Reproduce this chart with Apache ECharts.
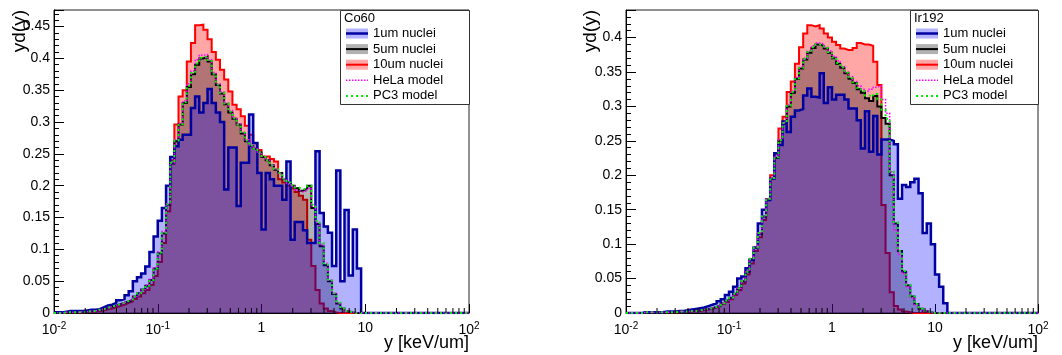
<!DOCTYPE html>
<html><head><meta charset="utf-8">
<script src="https://cdn.jsdelivr.net/npm/echarts@6/dist/echarts.min.js"></script>
<style>html,body{margin:0;padding:0;background:#fff}#c{width:1062px;height:355px}</style>
</head><body><div id="c"></div>
<script>
// ---------- data ----------
const LOG_MIN = -2, LOG_MAX = 2, N_BINS = 100;          // 100 log bins, 10^-2 .. 10^2
const xTickExponents = [-2, -1, 0, 1, 2];
const minorTickMultipliers = [2, 3, 4, 5, 6, 7, 8, 9];
const seriesNames = ['1um nuclei', '5um nuclei', '10um nuclei', 'HeLa model', 'PC3 model'];
const panelTitles = ['Co60', 'Ir192'];
const xAxisTitle = 'y [keV/um]';
const yAxisTitle = 'yd(y)';

const co60_1um = [
 0.001,0.001,0.002,0.003,0.003,0.003,0.003,0.004,0.005,0.005,
 0.006,0.009,0.012,0.013,0.016,0.020,0.022,0.028,0.034,0.050,
 0.056,0.062,0.073,0.096,0.120,0.145,0.165,0.200,0.245,0.262,
 0.272,0.280,0.280,0.322,0.340,0.315,0.330,0.352,0.330,0.315,
 0.300,0.194,0.260,0.260,0.168,0.236,0.236,0.312,0.267,0.220,
 0.131,0.220,0.210,0.200,0.200,0.178,0.238,0.115,0.143,0.143,
 0.130,0.110,0.110,0.254,0.157,0.136,0.126,0.074,0.224,0.050,
 0.162,0.059,0.131,0.070,0,0,0,0,0,0,
 0,0,0,0,0,0,0,0,0,0,
 0,0,0,0,0,0,0,0,0,0];
const co60_5um = [
 0,0,0.001,0.001,0.001,0.001,0.002,0.002,0.003,0.003,
 0.005,0.006,0.008,0.010,0.012,0.014,0.016,0.018,0.021,0.026,
 0.031,0.037,0.043,0.052,0.070,0.094,0.125,0.170,0.235,0.270,
 0.296,0.330,0.355,0.375,0.390,0.400,0.403,0.395,0.375,0.358,
 0.345,0.328,0.315,0.305,0.296,0.282,0.270,0.262,0.258,0.252,
 0.245,0.240,0.232,0.225,0.220,0.210,0.205,0.200,0.196,0.192,
 0.195,0.200,0.165,0.140,0.105,0.075,0.050,0.030,0.015,0.007,
 0.003,0.001,0,0,0,0,0,0,0,0,
 0,0,0,0,0,0,0,0,0,0,
 0,0,0,0,0,0,0,0,0,0];
const co60_10um = [
 0,0,0.001,0.001,0.001,0.001,0.001,0.002,0.002,0.002,
 0.003,0.004,0.006,0.007,0.009,0.011,0.013,0.016,0.018,0.022,
 0.026,0.031,0.036,0.044,0.058,0.080,0.110,0.160,0.240,0.296,
 0.340,0.350,0.395,0.424,0.452,0.453,0.445,0.430,0.410,0.398,
 0.382,0.367,0.348,0.327,0.320,0.309,0.294,0.280,0.267,0.256,
 0.246,0.246,0.242,0.238,0.210,0.205,0.200,0.196,0.190,0.184,
 0.178,0.115,0.074,0.036,0.015,0.007,0.003,0.001,0,0,
 0,0,0,0,0,0,0,0,0,0,
 0,0,0,0,0,0,0,0,0,0,
 0,0,0,0,0,0,0,0,0,0];
const co60_hela = [
 0,0,0.001,0.001,0.001,0.001,0.002,0.002,0.003,0.003,
 0.005,0.006,0.008,0.010,0.012,0.014,0.016,0.019,0.022,0.026,
 0.031,0.037,0.044,0.053,0.071,0.096,0.128,0.172,0.236,0.272,
 0.298,0.333,0.360,0.380,0.398,0.405,0.406,0.398,0.378,0.360,
 0.347,0.330,0.318,0.307,0.297,0.284,0.272,0.264,0.258,0.251,
 0.246,0.240,0.233,0.226,0.219,0.211,0.204,0.199,0.193,0.190,
 0.192,0.196,0.168,0.142,0.108,0.078,0.052,0.031,0.016,0.008,
 0.003,0.001,0,0,0,0,0,0,0,0,
 0,0,0,0,0,0,0,0,0,0,
 0,0,0,0,0,0,0,0,0,0];
const co60_pc3 = [
 0,0,0.001,0.001,0.001,0.001,0.002,0.002,0.003,0.003,
 0.005,0.006,0.008,0.010,0.012,0.014,0.016,0.019,0.021,0.026,
 0.031,0.037,0.043,0.052,0.070,0.095,0.126,0.171,0.236,0.271,
 0.297,0.331,0.357,0.377,0.392,0.401,0.403,0.396,0.376,0.359,
 0.346,0.329,0.316,0.306,0.296,0.283,0.271,0.263,0.258,0.252,
 0.245,0.240,0.232,0.226,0.220,0.211,0.205,0.201,0.197,0.194,
 0.196,0.200,0.170,0.145,0.110,0.078,0.051,0.031,0.016,0.007,
 0.003,0.001,0,0,0,0,0,0,0,0,
 0,0,0,0,0,0,0,0,0,0,
 0,0,0,0,0,0,0,0,0,0];

const ir192_1um = [
 0,0,0,0,0.001,0.001,0.001,0.001,0.001,0.002,
 0.002,0.002,0.003,0.003,0.004,0.005,0.006,0.007,0.008,0.010,
 0.012,0.014,0.017,0.020,0.026,0.031,0.038,0.050,0.053,0.065,
 0.077,0.095,0.130,0.150,0.164,0.195,0.232,0.244,0.278,0.263,
 0.285,0.294,0.296,0.316,0.326,0.314,0.313,0.348,0.305,0.328,
 0.310,0.317,0.317,0.310,0.297,0.297,0.280,0.239,0.293,0.234,
 0.286,0.230,0.252,0.252,0.250,0.245,0.166,0.186,0.183,0.190,
 0.195,0.174,0.116,0.130,0.100,0.056,0.038,0.014,0,0,
 0,0,0,0,0,0,0,0,0,0,
 0,0,0,0,0,0,0,0,0,0];
const ir192_5um = [
 0,0,0,0,0.001,0.001,0.001,0.001,0.001,0.001,
 0.001,0.001,0.002,0.002,0.002,0.003,0.003,0.004,0.005,0.006,
 0.007,0.009,0.011,0.014,0.018,0.022,0.028,0.036,0.046,0.060,
 0.078,0.095,0.115,0.140,0.165,0.195,0.225,0.250,0.275,0.300,
 0.320,0.340,0.355,0.368,0.378,0.385,0.390,0.388,0.384,0.378,
 0.370,0.362,0.356,0.348,0.340,0.334,0.325,0.320,0.312,0.308,
 0.315,0.300,0.283,0.275,0.200,0.130,0.090,0.060,0.040,0.024,
 0.013,0.006,0.003,0.001,0,0,0,0,0,0,
 0,0,0,0,0,0,0,0,0,0,
 0,0,0,0,0,0,0,0,0,0];
const ir192_10um = [
 0,0,0,0,0.001,0.001,0.001,0.001,0.001,0.001,
 0.001,0.001,0.001,0.002,0.002,0.002,0.003,0.003,0.004,0.005,
 0.006,0.008,0.010,0.013,0.016,0.020,0.026,0.033,0.043,0.056,
 0.072,0.090,0.110,0.135,0.165,0.200,0.232,0.268,0.285,0.321,
 0.336,0.362,0.386,0.406,0.418,0.416,0.418,0.413,0.406,0.400,
 0.394,0.389,0.384,0.382,0.382,0.385,0.392,0.390,0.390,0.388,
 0.365,0.331,0.157,0.087,0.030,0.010,0.005,0.002,0.001,0,
 0,0,0,0,0,0,0,0,0,0,
 0,0,0,0,0,0,0,0,0,0,
 0,0,0,0,0,0,0,0,0,0];
const ir192_hela = [
 0,0,0,0,0.001,0.001,0.001,0.001,0.001,0.001,
 0.001,0.001,0.002,0.002,0.002,0.003,0.003,0.004,0.005,0.006,
 0.007,0.009,0.011,0.014,0.018,0.022,0.028,0.036,0.047,0.061,
 0.079,0.096,0.116,0.141,0.166,0.196,0.226,0.252,0.277,0.302,
 0.322,0.342,0.357,0.370,0.380,0.388,0.392,0.391,0.386,0.381,
 0.373,0.366,0.358,0.350,0.343,0.336,0.330,0.325,0.322,0.325,
 0.328,0.330,0.310,0.290,0.205,0.120,0.085,0.057,0.038,0.022,
 0.012,0.006,0.003,0.001,0,0,0,0,0,0,
 0,0,0,0,0,0,0,0,0,0,
 0,0,0,0,0,0,0,0,0,0];
const ir192_pc3 = [
 0,0,0,0,0.001,0.001,0.001,0.001,0.001,0.001,
 0.001,0.001,0.002,0.002,0.002,0.003,0.003,0.004,0.005,0.006,
 0.007,0.009,0.011,0.014,0.018,0.022,0.028,0.036,0.046,0.060,
 0.078,0.095,0.116,0.140,0.166,0.196,0.226,0.251,0.276,0.301,
 0.321,0.341,0.356,0.369,0.379,0.386,0.390,0.389,0.385,0.379,
 0.371,0.363,0.357,0.349,0.341,0.335,0.327,0.322,0.316,0.314,
 0.318,0.310,0.295,0.282,0.205,0.132,0.090,0.061,0.041,0.024,
 0.013,0.006,0.003,0.001,0,0,0,0,0,0,
 0,0,0,0,0,0,0,0,0,0,
 0,0,0,0,0,0,0,0,0,0];

// ---------- layout / style ----------
const FONT = '"Liberation Sans", Arial, Helvetica, sans-serif';
const panels = [
  { grid: {left: 54, top: 10, width: 415, height: 303}, ymax: 0.476, title: panelTitles[0],
    values: [co60_1um, co60_5um, co60_10um, co60_hela, co60_pc3],
    legendBox: {x: 340, y: 10, w: 129, h: 94}, yTitleX: 20 },
  { grid: {left: 626, top: 10, width: 412, height: 303}, ymax: 0.44, title: panelTitles[1],
    values: [ir192_1um, ir192_5um, ir192_10um, ir192_hela, ir192_pc3],
    legendBox: {x: 910, y: 10, w: 128, h: 94}, yTitleX: 591 }
];
const styles = [
  {line: '#0000a0', width: 2.5, area: 'rgba(0,0,255,0.3)'},
  {line: '#000000', width: 2,   area: 'rgba(0,0,0,0.3)'},
  {line: '#ff0000', width: 2,   area: 'rgba(255,0,0,0.35)'},
  {line: '#ff00ff', width: 1.5, dash: [1.5, 1.5]},
  {line: '#00ee00', width: 2,   dash: [2, 3]}
];
const drawOrder = [2, 1, 0, 3, 4];

const binEdges = [];
for (let i = 0; i <= N_BINS; i++) binEdges.push(LOG_MIN + (LOG_MAX - LOG_MIN) * i / N_BINS);
function stepData(vals) {
  const d = vals.map((v, i) => [binEdges[i], v]);
  d.push([binEdges[N_BINS], vals[N_BINS - 1]]);
  return d;
}
const minorTicks = [];
for (let n = LOG_MIN; n < LOG_MAX; n++) minorTickMultipliers.forEach(k => minorTicks.push([n + Math.log10(k), 0]));

function xLabel(v) {
  const e = Math.round(v);
  if (e === 0) return '1';
  if (e === 1) return '10';
  return '10{s|' + e + '}';
}

const option = {
  animation: false,
  backgroundColor: '#fff',
  grid: [], xAxis: [], yAxis: [], series: [], graphic: []
};

panels.forEach((p, pi) => {
  option.grid.push(Object.assign({show: true, borderColor: '#222', borderWidth: 1,
    backgroundColor: 'transparent', outerBoundsMode: 'none', containLabel: false}, p.grid));
  option.xAxis.push({
    type: 'value', gridIndex: pi, min: LOG_MIN, max: LOG_MAX, interval: 1,
    axisLine: {show: true, onZero: false, lineStyle: {color: '#000', width: 1}},
    axisTick: {show: true, inside: true, length: 9, lineStyle: {color: '#000', width: 1}},
    splitLine: {show: false},
    axisLabel: {show: true, margin: 8, color: '#000', fontSize: 14, fontFamily: FONT,
      formatter: xLabel,
      rich: {s: {fontSize: 10, fontFamily: FONT, color: '#000', padding: [0, 0, 8, 0]}}}
  });
  option.yAxis.push({
    type: 'value', gridIndex: pi, min: 0, max: p.ymax, interval: 0.05,
    axisLine: {show: true, onZero: false, lineStyle: {color: '#000', width: 1}},
    axisTick: {show: true, inside: true, length: 10, lineStyle: {color: '#000', width: 1}},
    minorTick: {show: true, splitNumber: 5, length: 5, lineStyle: {color: '#000', width: 1}},
    splitLine: {show: false}, minorSplitLine: {show: false},
    axisLabel: {show: true, margin: 4, color: '#000', fontSize: 14, fontFamily: FONT,
      showMaxLabel: false}
  });
  drawOrder.forEach((si, oi) => {
    const st = styles[si];
    const s = {
      type: 'line', name: seriesNames[si], xAxisIndex: pi, yAxisIndex: pi,
      data: stepData(p.values[si]), step: 'end', showSymbol: false, symbol: 'none',
      clip: true, silent: true, z: 2 + oi,
      lineStyle: {color: st.line, width: st.width, type: st.dash ? st.dash : 'solid', cap: 'butt', join: 'miter'}
    };
    if (st.area) s.areaStyle = {color: st.area, origin: 'start', opacity: 1};
    option.series.push(s);
  });
  option.series.push({
    type: 'custom', xAxisIndex: pi, yAxisIndex: pi, data: minorTicks, silent: true, z: 10,
    renderItem: (params, api) => {
      const c = api.coord([api.value(0), 0]);
      return {type: 'line', shape: {x1: c[0], y1: c[1], x2: c[0], y2: c[1] - 5},
              style: {stroke: '#000', lineWidth: 1}};
    }
  });

  // axis titles
  const g = p.grid;
  option.graphic.push({type: 'text', x: p.yTitleX, y: g.top, rotation: Math.PI / 2, z: 50,
    style: {text: yAxisTitle, font: '19px ' + FONT, fill: '#000',
      textAlign: 'right', textVerticalAlign: 'middle', align: 'right', verticalAlign: 'middle'}});
  option.graphic.push({type: 'text', x: g.left + g.width, y: 343, z: 50,
    style: {text: xAxisTitle, font: '18px ' + FONT, fill: '#000',
      textAlign: 'right', textVerticalAlign: 'middle', align: 'right', verticalAlign: 'middle'}});

  // legend box
  const L = p.legendBox;
  option.graphic.push({type: 'rect', z: 60, shape: {x: L.x + 0.5, y: L.y + 0.5, width: L.w, height: L.h},
    style: {fill: '#fff', stroke: '#333', lineWidth: 1}});
  option.graphic.push({type: 'text', x: L.x + 4, y: L.y + 8, z: 61,
    style: {text: p.title, font: '13px ' + FONT, fill: '#000',
      textAlign: 'left', textVerticalAlign: 'middle', align: 'left', verticalAlign: 'middle'}});
  seriesNames.forEach((nm, k) => {
    const st = styles[k];
    const cy = L.y + 23.5 + 15.6 * k;
    const x0 = L.x + 6, x1 = L.x + 28;
    if (st.area) {
      option.graphic.push({type: 'rect', z: 61, shape: {x: x0, y: cy - 5, width: x1 - x0, height: 10},
        style: {fill: st.area}});
    }
    option.graphic.push({type: 'line', z: 62, shape: {x1: x0, y1: cy, x2: x1, y2: cy},
      style: {stroke: st.line, lineWidth: st.width, lineDash: st.dash || null}});
    option.graphic.push({type: 'text', x: L.x + 33, y: cy, z: 62,
      style: {text: nm, font: '13px ' + FONT, fill: '#000',
        textAlign: 'left', textVerticalAlign: 'middle', align: 'left', verticalAlign: 'middle'}});
  });
});

const chart = echarts.init(document.getElementById('c'), null, {renderer: 'canvas', width: 1062, height: 355});
chart.setOption(option);
</script>
</body></html>
